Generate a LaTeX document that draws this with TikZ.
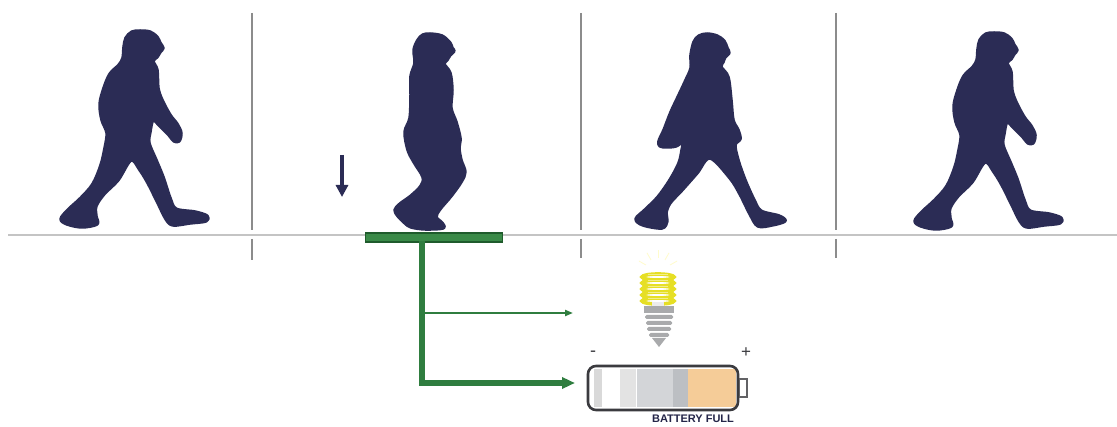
\documentclass[tikz,border=0pt]{standalone}
\usepackage{fontspec}
\setmainfont{Liberation Sans}
\usetikzlibrary{arrows.meta,calc}
\definecolor{navy}{HTML}{2B2C55}
\definecolor{platefill}{HTML}{3A8A48}
\definecolor{plateedge}{HTML}{1F5B2C}
\definecolor{wire}{HTML}{2F7D3F}
\definecolor{divgray}{HTML}{8C8C8C}
\definecolor{groundgray}{HTML}{C4C4C4}
\definecolor{coil}{HTML}{E6DF25}
\definecolor{coillight}{HTML}{F3EE8A}
\definecolor{basegray}{HTML}{A9AAAC}
\definecolor{peach}{HTML}{F5CC98}
\definecolor{cellgray}{HTML}{D3D5D8}
\definecolor{celldark}{HTML}{BCBFC3}
\definecolor{shell}{HTML}{3B3B3F}
\tikzset{
  divider/.style={divgray, line width=2.4pt},
  ground/.style={groundgray, line width=2pt},
  silhouette/.style={fill=navy, draw=navy, line width=3.5pt, line join=round},
  wirethick/.style={wire, line width=6.5pt},
  wirethin/.style={wire, line width=2.6pt},
  walker/.pic={
    \filldraw[silhouette] plot[smooth cycle, tension=0.55] coordinates {
      (140,31) (150,32) (157,37) (160,43) (163,48) (160,52) (157,57) (153,61)
      (157,70) (158,88) (162,100) (170,115) (177,124) (181,133) (179,141) (174,141) (169,135) (160,126) (153,120)
      (150,132) (149,143) (156,160) (163,177) (170,198) (176,209) (195,212) (207,216) (206,221) (190,223) (173,225)
      (166,219) (158,203) (148,183) (140,170) (131,160)
      (118,180) (104,194) (96,206) (96,216) (97,224) (82,227) (67,224) (61,219)
      (68,210) (81,198) (93,184) (101,165) (105,148) (107,133)
      (102,120) (100,104) (104,88) (110,74) (119,65)
      (123,58) (124,47) (126,38) (132,32)};
  }
}
\begin{document}
\begin{tikzpicture}[x=1pt,y=-1pt]
\useasboundingbox (0,0) rectangle (1117,427);
\fill[white] (0,0) rectangle (1117,427);

% ground and stage dividers
\draw[ground] (8,235) -- (1117,235);
\foreach \dx/\lo in {252/260,581/258,836/258}{
  \draw[divider] (\dx,13) -- (\dx,230);
  \draw[divider] (\dx,239) -- (\dx,\lo);
}

% four phases of the stride
\pic at (0,0) {walker};
\pic at (854,2) {walker};

% stepping onto the plate
\filldraw[silhouette] plot[smooth cycle, tension=0.55] coordinates {
  (430,34) (442,36) (450,43) (452,48) (454,51) (450,55) (447,60) (444,64)
  (450,73) (452,90) (451,108) (456,122) (460,138) (459,148)
  (461,160) (465,172) (461,182) (451,196) (440,209) (436,217) (442,223) (443,228) (425,229) (411,227) (405,223)
  (398,216) (395,210) (400,204) (411,196) (421,186) (423,177)
  (414,162) (408,150) (405,132) (410,118) (411,95) (411,76) (415,63)
  (414,50) (418,40) (423,35)};

% arm swung back
\filldraw[silhouette] plot[smooth cycle, tension=0.55] coordinates {
  (707,34) (717,36) (724,41) (727,48) (729,53) (725,57) (723,62) (721,67)
  (728,77) (731,100) (733,120) (738,130) (740,139) (735,145)
  (738,160) (745,180) (754,200) (761,211) (779,216) (785,221) (772,225) (758,226)
  (750,214) (740,194) (730,178) (710,158)
  (697,173) (682,190) (670,203) (666,213) (667,221) (662,228) (643,225) (636,219)
  (645,210) (658,197) (670,180) (679,163) (682,150)
  (683,142) (676,146) (667,147) (660,146) (659,141) (664,130) (671,112) (679,95) (686,80)
  (691,68) (691,55) (694,42) (699,36)};

% downward force
\coordinate (pushtop) at (342,155);
\coordinate (pushtip) at (342,197);
\draw[navy, line width=4.5pt, -{Triangle[length=12pt,width=12pt]}] (pushtop) -- (pushtip);

% piezo plate and wiring
\node[fill=platefill, draw=plateedge, line width=1.2pt, minimum width=137pt, minimum height=9pt, inner sep=0pt] (plate) at (434,237.5) {};
\coordinate (trunk) at (422,241);
\coordinate (bulbin) at (573,313);
\coordinate (battin) at (575,383);
\draw[wirethick, line join=miter, -{Triangle[length=13pt,width=11pt]}] (trunk) |- (battin);
\draw[wirethin, -{Triangle[length=8pt,width=6pt]}] (trunk |- bulbin) -- (bulbin);

% compact fluorescent bulb
\node[inner sep=0pt, minimum width=40pt, minimum height=78pt] (bulb) at (658,308) {};
\foreach \a in {-60,-30,0,30,60}{
  \draw[yellow!20, line width=0.8pt] ($(658,272)+(\a-90:14)$) -- ($(658,272)+(\a-90:22)$);
}
\foreach \y in {277,283,289,295,301}{
  \draw[coil, line width=3.6pt] (658,\y) ellipse (16 and 3);
  \draw[coillight, line width=1pt] (648,\y-2) -- (668,\y-2);
}
\fill[white!85!gray] (652,302) rectangle (664,306);
\fill[basegray] (644,306) rectangle (674,313);
\foreach \y/\w in {315/14,321/13,327/12,333/10}{
  \fill[basegray, rounded corners=1.5pt] (659-\w,\y) rectangle (659+\w,\y+4);
}
\fill[basegray] (652,338) -- (666,338) -- (659,347) -- cycle;

% battery
\fill[white] (590,368) rectangle (736,408);
\fill[gray!30] (594,369) rectangle (602,407);
\fill[gray!22] (620,369) rectangle (636,407);
\fill[cellgray] (637,369) rectangle (673,407);
\fill[celldark] (673,369) rectangle (688,407);
\fill[peach] (688,369) rectangle (736,407);
\node[draw=shell, line width=2.6pt, rounded corners=8pt, minimum width=150pt, minimum height=44pt, inner sep=0pt] (batt) at (663,388) {};
\draw[shell!80, line width=1.5pt] (batt.east |- 0,379) rectangle (747,397);
\node[text=shell, font=\fontsize{18}{18}\selectfont, inner sep=0pt] (minus) at (593,354) {-};
\node[text=shell, font=\fontsize{17}{17}\selectfont, inner sep=0pt] (plus) at (746,353) {+};
\node[text=navy!85!black, font=\bfseries\fontsize{11}{11}\selectfont, inner sep=0pt] (label) at (693,419) {BATTERY FULL};
\end{tikzpicture}
\end{document}
